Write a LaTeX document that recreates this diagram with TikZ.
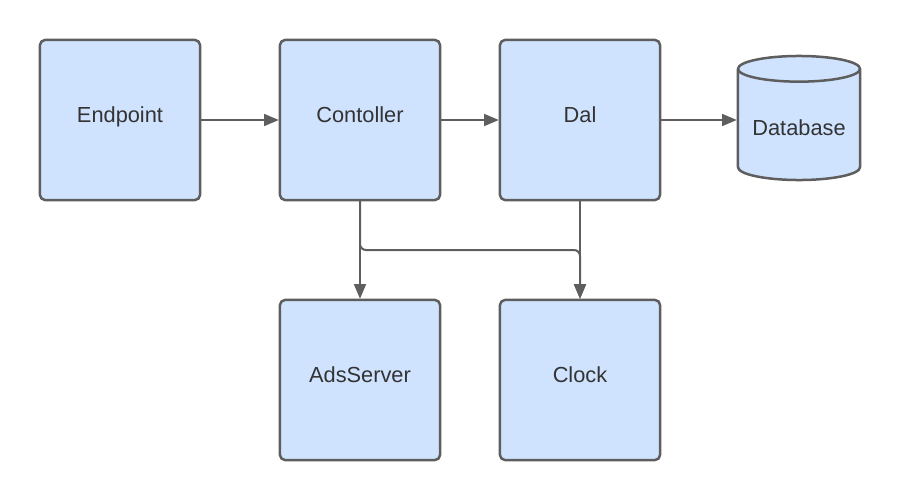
\documentclass[tikz,border=0pt]{standalone}
\usepackage{fontspec}
\setmainfont{Liberation Sans}
\usetikzlibrary{arrows, calc, positioning, shapes.geometric}
\usepackage{xcolor}
\definecolor{boxfill}{HTML}{CFE3FF}
\definecolor{boxline}{HTML}{5E5E5E}
\definecolor{boxtext}{HTML}{333333}

\tikzset{
  block/.style={draw=boxline, fill=boxfill, line width=0.0625cm, rounded corners=0.125cm,
    minimum width=4cm, minimum height=4cm, text=boxtext, font=\fontsize{15.5}{18}\selectfont,
    text height=0.72em, text depth=0.39em},
  store/.style={cylinder, shape border rotate=90, aspect=0.25, draw=boxline, fill=boxfill,
    line width=0.0625cm, minimum width=3.05cm, minimum height=3.1cm, text=boxtext,
    font=\fontsize{15.5}{18}\selectfont},
  link/.style={->, draw=boxline, line width=0.05cm}
}

\begin{document}
\begin{tikzpicture}[line cap=round,line join=round,>=triangle 45,x=0.025cm,y=-0.025cm]
\useasboundingbox (0,0) rectangle (900,500);
% Boxes
\node [block] (endpoint) at (120,120) {Endpoint};
\node [block] (controller) at (360,120) {Contoller};
\node [block] (dal) at (580,120) {Dal};
\node [store, anchor=shape center] (database) at (799,118) {Database};
\node [block] (ads) at (360,380) {AdsServer};
\node [block] (clock) at (580,380) {Clock};

% Split point below the controller
\coordinate (split) at (360,250);

% Connectors
\draw [link] (endpoint) -- (controller);
\draw [link] (controller) -- (dal);
\draw [link] (dal) -- (dal -| database.west);
\draw [link] (controller) -- (ads);
\draw [link] (dal) -- (clock);
\draw [link, rounded corners=0.15cm] (controller.south) -- (split) -| (clock.north);
\end{tikzpicture}
\end{document}
